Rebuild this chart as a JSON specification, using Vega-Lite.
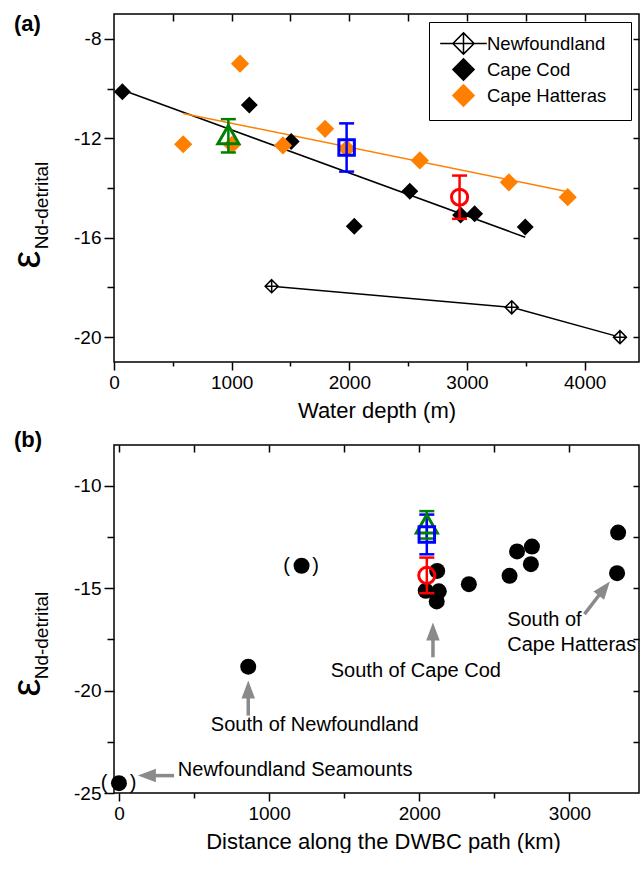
{
  "$schema": "https://vega.github.io/schema/vega-lite/v6.json",
  "padding": {"left": 6, "top": 12, "right": 0, "bottom": 0},
  "background": "white",
  "spacing": 6,
  "config": {
    "font": "Liberation Sans",
    "view": {"stroke": "black", "strokeWidth": 1.5},
    "axis": {"domain": false, "grid": false, "labelFont": "Liberation Sans", "labelFontSize": 19, "labelColor": "black", "tickColor": "black", "tickWidth": 1.5, "titleFont": "Liberation Sans", "titleColor": "black", "titleFontWeight": "normal", "labelFlush": false, "labelOverlap": false},
    "title": {"font": "Liberation Sans", "color": "black"}
  },
  "datasets": {
    "depth": [
      {"series": "Newfoundland", "depth": 1340, "eps": -17.95},
      {"series": "Newfoundland", "depth": 3380, "eps": -18.8},
      {"series": "Newfoundland", "depth": 4300, "eps": -20.0},
      {"series": "Cape Cod", "depth": 71, "eps": -10.13},
      {"series": "Cape Cod", "depth": 1150, "eps": -10.66},
      {"series": "Cape Cod", "depth": 1506, "eps": -12.13},
      {"series": "Cape Cod", "depth": 2042, "eps": -15.54},
      {"series": "Cape Cod", "depth": 2514, "eps": -14.13},
      {"series": "Cape Cod", "depth": 2946, "eps": -15.09},
      {"series": "Cape Cod", "depth": 3065, "eps": -15.04},
      {"series": "Cape Cod", "depth": 3495, "eps": -15.57},
      {"series": "Cape Hatteras", "depth": 588, "eps": -12.24},
      {"series": "Cape Hatteras", "depth": 1003, "eps": -12.26},
      {"series": "Cape Hatteras", "depth": 1071, "eps": -9.0},
      {"series": "Cape Hatteras", "depth": 1436, "eps": -12.29},
      {"series": "Cape Hatteras", "depth": 1794, "eps": -11.62},
      {"series": "Cape Hatteras", "depth": 1978, "eps": -12.42},
      {"series": "Cape Hatteras", "depth": 2599, "eps": -12.89},
      {"series": "Cape Hatteras", "depth": 3356, "eps": -13.77},
      {"series": "Cape Hatteras", "depth": 3856, "eps": -14.37}
    ],
    "fits": [
      {"series": "Cape Cod", "depth": 71, "eps": -10.06},
      {"series": "Cape Cod", "depth": 3495, "eps": -15.98},
      {"series": "Cape Hatteras", "depth": 588, "eps": -11.0},
      {"series": "Cape Hatteras", "depth": 3856, "eps": -14.15}
    ],
    "errs": [
      {"id": "S1", "depth": 972, "dist": 2050, "eps": -11.85, "lo": -12.57, "hi": -11.23},
      {"id": "S2", "depth": 1977, "dist": 2050, "eps": -12.37, "lo": -13.34, "hi": -11.4},
      {"id": "S3", "depth": 2937, "dist": 2050, "eps": -14.37, "lo": -15.24, "hi": -13.5}
    ],
    "dwbc": [
      {"dist": 0, "eps": -24.52, "bracketed": true},
      {"dist": 861, "eps": -18.83, "bracketed": false},
      {"dist": 1216, "eps": -13.9, "bracketed": true},
      {"dist": 2043, "eps": -15.12, "bracketed": false},
      {"dist": 2119, "eps": -14.15, "bracketed": false},
      {"dist": 2130, "eps": -15.15, "bracketed": false},
      {"dist": 2116, "eps": -15.64, "bracketed": false},
      {"dist": 2330, "eps": -14.8, "bracketed": false},
      {"dist": 2601, "eps": -14.39, "bracketed": false},
      {"dist": 2651, "eps": -13.2, "bracketed": false},
      {"dist": 2750, "eps": -12.96, "bracketed": false},
      {"dist": 2743, "eps": -13.82, "bracketed": false},
      {"dist": 3324, "eps": -12.28, "bracketed": false},
      {"dist": 3317, "eps": -14.26, "bracketed": false}
    ],
    "notes": [
      {"note": "South of Cape Cod", "dist": 1977, "eps": -19.06},
      {"note": "South of Newfoundland", "dist": 1304, "eps": -21.66},
      {"note": "Newfoundland Seamounts", "dist": 1173, "eps": -23.9},
      {"note": "South of", "dist": 2833, "eps": -16.55},
      {"note": "Cape Hatteras", "dist": 3015, "eps": -17.76}
    ],
    "arrows": [
      {"dir": "left", "x0": 367, "y0": -24.15, "xb": 233, "yb": -24.15, "xt": 126, "yt": -24.15},
      {"dir": "up", "x0": 861, "y0": -21.22, "xb": 861, "yb": -20.29, "xt": 861, "yt": -19.51},
      {"dir": "up", "x0": 2091, "y0": -18.37, "xb": 2091, "yb": -17.45, "xt": 2091, "yt": -16.67},
      {"dir": "diag", "x0": 3100, "y0": -16.26, "xb": 3203, "yb": -15.28, "xt": 3269, "yt": -14.67}
    ]
  },
  "vconcat": [
    {
      "width": 525,
      "height": 348,
      "title": {"text": "(a)", "orient": "none", "anchor": "start", "frame": "group", "fontSize": 22, "fontWeight": "bold", "baseline": "top", "align": "left", "offset": 0, "dx": -100, "dy": 0},
      "resolve": {"axis": {"x": "independent", "y": "independent"}},
      "layer": [
        {
          "data": {"name": "depth"},
          "transform": [{"filter": "datum.series === 'Newfoundland'"}],
          "mark": {"type": "line", "color": "black", "strokeWidth": 1.5},
          "encoding": {
            "x": {"field": "depth", "type": "quantitative", "scale": {"domain": [0, 4462], "nice": false, "zero": false},
                  "axis": {"orient": "bottom", "values": [0, 1000, 2000, 3000, 4000], "tickSize": 8, "labelPadding": 3, "labelExpr": "'' + datum.value", "title": "Water depth (m)", "titleFontSize": 22, "titlePadding": 8}},
            "y": {"field": "eps", "type": "quantitative", "scale": {"domain": [-21, -7], "nice": false, "zero": false},
                  "axis": {"orient": "left", "values": [-20, -16, -12, -8], "tickSize": 10, "labelPadding": 3, "labelExpr": "datum.value < 0 ? '-' + abs(datum.value) : '' + datum.value", "title": "ε", "titleFontSize": 40, "titleX": -87, "titleY": 245, "titleAlign": "center", "titleBaseline": "middle", "titleAngle": 270}}
          }
        },
        {
          "data": {"name": "fits"},
          "transform": [{"filter": "datum.series === 'Cape Cod'"}],
          "mark": {"type": "line", "color": "black", "strokeWidth": 1.5},
          "encoding": {
            "x": {"field": "depth", "type": "quantitative", "axis": {"orient": "bottom", "values": [500, 1500, 2500, 3500], "tickSize": 4, "labels": false, "title": null}},
            "y": {"field": "eps", "type": "quantitative", "axis": {"orient": "left", "values": [-18, -14, -10], "tickSize": 7, "labels": false, "title": "Nd-detrital", "titleFontSize": 19, "titleX": -73, "titleY": 191, "titleAlign": "center", "titleBaseline": "middle", "titleAngle": 270}}
          }
        },
        {
          "data": {"name": "fits"},
          "transform": [{"filter": "datum.series === 'Cape Hatteras'"}],
          "mark": {"type": "line", "color": "#ff8000", "strokeWidth": 1.5},
          "encoding": {
            "x": {"field": "depth", "type": "quantitative", "axis": {"orient": "top", "values": [500, 1000, 1500, 2000, 2500, 3000, 3500, 4000], "tickSize": -7, "labels": false, "title": null}},
            "y": {"field": "eps", "type": "quantitative", "axis": {"orient": "right", "values": [-20, -18, -16, -14, -12, -10, -8], "tickSize": -6, "labels": false, "title": null}}
          }
        },
        {
          "data": {"name": "depth"},
          "transform": [{"filter": "datum.series === 'Newfoundland'"}],
          "mark": {"type": "point", "shape": "M0,-1L1,0L0,1L-1,0Z M0,-1L0,1 M-1,0L1,0", "size": 170, "strokeWidth": 1.5, "opacity": 1},
          "encoding": {
            "x": {"field": "depth", "type": "quantitative", "axis": null},
            "y": {"field": "eps", "type": "quantitative", "axis": null},
            "fill": {"field": "series", "type": "nominal", "scale": {"domain": ["Newfoundland", "Cape Cod", "Cape Hatteras"], "range": ["white", "black", "#ff8000"]},
                     "legend": {"title": null, "orient": "top-right", "offset": 8, "padding": 10, "strokeColor": "black", "fillColor": "white", "labelFont": "Liberation Sans", "labelFontSize": 18.5, "labelColor": "black", "symbolOffset": 13, "labelOffset": 12, "rowPadding": -9, "symbolSize": 450, "symbolStrokeWidth": 1.5, "labelExpr": "datum.label + '\u2800'"}},
            "stroke": {"field": "series", "type": "nominal", "scale": {"domain": ["Newfoundland", "Cape Cod", "Cape Hatteras"], "range": ["black", "black", "#ff8000"]},
                       "legend": {"title": null, "orient": "top-right", "offset": 8, "padding": 10, "strokeColor": "black", "fillColor": "white", "labelFont": "Liberation Sans", "labelFontSize": 18.5, "labelColor": "black", "symbolOffset": 13, "labelOffset": 12, "rowPadding": -9, "symbolSize": 450, "symbolStrokeWidth": 1.5, "labelExpr": "datum.label + '\u2800'"}}
          }
        },
        {
          "data": {"name": "depth"},
          "transform": [{"filter": "datum.series === 'Cape Cod'"}],
          "mark": {"type": "point", "size": 220, "strokeWidth": 1.5, "opacity": 1},
          "encoding": {
            "x": {"field": "depth", "type": "quantitative", "axis": null},
            "y": {"field": "eps", "type": "quantitative", "axis": null},
            "shape": {"field": "series", "type": "nominal", "scale": {"domain": ["Newfoundland", "Cape Cod", "Cape Hatteras"], "range": ["M-2.2,0L-1,0M1,0L2.2,0M0,-1L1,0L0,1L-1,0ZM0,-1L0,1M-1,0L1,0", "diamond", "diamond"]},
                      "legend": {"title": null, "orient": "top-right", "offset": 8, "padding": 10, "strokeColor": "black", "fillColor": "white", "labelFont": "Liberation Sans", "labelFontSize": 18.5, "labelColor": "black", "symbolOffset": 13, "labelOffset": 12, "rowPadding": -9, "symbolSize": 450, "symbolStrokeWidth": 1.5, "labelExpr": "datum.label + '\u2800'"}},
            "fill": {"field": "series", "type": "nominal"},
            "stroke": {"field": "series", "type": "nominal"}
          }
        },
        {
          "data": {"name": "depth"},
          "transform": [{"filter": "datum.series === 'Cape Hatteras'"}],
          "mark": {"type": "point", "size": 260, "strokeWidth": 1.5, "opacity": 1},
          "encoding": {
            "x": {"field": "depth", "type": "quantitative", "axis": null},
            "y": {"field": "eps", "type": "quantitative", "axis": null},
            "shape": {"field": "series", "type": "nominal"},
            "fill": {"field": "series", "type": "nominal"},
            "stroke": {"field": "series", "type": "nominal"}
          }
        },
        {
          "data": {"name": "errs"},
          "mark": {"type": "rule", "strokeWidth": 2.5},
          "encoding": {
            "x": {"field": "depth", "type": "quantitative", "axis": null},
            "y": {"field": "lo", "type": "quantitative", "axis": null},
            "y2": {"field": "hi"},
            "color": {"field": "id", "type": "nominal", "scale": {"domain": ["S1", "S2", "S3"], "range": ["#008000", "#0000ff", "#ff0000"]}, "legend": null}
          }
        },
        {
          "data": {"name": "errs"},
          "mark": {"type": "tick", "orient": "horizontal", "size": 15, "thickness": 2.5, "opacity": 1},
          "encoding": {
            "x": {"field": "depth", "type": "quantitative", "axis": null},
            "y": {"field": "lo", "type": "quantitative", "axis": null},
            "color": {"field": "id", "type": "nominal", "legend": null}
          }
        },
        {
          "data": {"name": "errs"},
          "mark": {"type": "tick", "orient": "horizontal", "size": 15, "thickness": 2.5, "opacity": 1},
          "encoding": {
            "x": {"field": "depth", "type": "quantitative", "axis": null},
            "y": {"field": "hi", "type": "quantitative", "axis": null},
            "color": {"field": "id", "type": "nominal", "legend": null}
          }
        },
        {
          "data": {"name": "errs"},
          "transform": [{"filter": "datum.id === 'S1'"}],
          "mark": {"type": "point", "shape": "triangle-up", "size": 440, "strokeWidth": 3, "color": "#008000", "filled": false, "opacity": 1},
          "encoding": {
            "x": {"field": "depth", "type": "quantitative", "axis": null},
            "y": {"field": "eps", "type": "quantitative", "axis": null}
          }
        },
        {
          "data": {"name": "errs"},
          "transform": [{"filter": "datum.id === 'S2'"}],
          "mark": {"type": "point", "shape": "square", "size": 240, "strokeWidth": 3, "color": "#0000ff", "filled": false, "opacity": 1},
          "encoding": {
            "x": {"field": "depth", "type": "quantitative", "axis": null},
            "y": {"field": "eps", "type": "quantitative", "axis": null}
          }
        },
        {
          "data": {"name": "errs"},
          "transform": [{"filter": "datum.id === 'S3'"}],
          "mark": {"type": "point", "shape": "circle", "size": 260, "strokeWidth": 3, "color": "#ff0000", "filled": false, "opacity": 1},
          "encoding": {
            "x": {"field": "depth", "type": "quantitative", "axis": null},
            "y": {"field": "eps", "type": "quantitative", "axis": null}
          }
        }
      ]
    },
    {
      "width": 525,
      "height": 348,
      "title": {"text": "(b)", "orient": "none", "anchor": "start", "frame": "group", "fontSize": 22, "fontWeight": "bold", "baseline": "top", "align": "left", "offset": 0, "dx": -100, "dy": -15},
      "resolve": {"axis": {"x": "independent", "y": "independent"}},
      "layer": [
        {
          "data": {"name": "arrows"},
          "mark": {"type": "rule", "color": "#8a8a8a", "strokeWidth": 3.5},
          "encoding": {
            "x": {"field": "x0", "type": "quantitative", "scale": {"domain": [-33, 3463], "nice": false, "zero": false},
                  "axis": {"orient": "bottom", "values": [0, 1000, 2000, 3000], "tickSize": 8, "labelPadding": 3, "labelExpr": "'' + datum.value", "title": "Distance along the DWBC path (km)", "titleFontSize": 22, "titlePadding": 8, "titleX": 269}},
            "y": {"field": "y0", "type": "quantitative", "scale": {"domain": [-25, -8], "nice": false, "zero": false},
                  "axis": {"orient": "left", "values": [-25, -20, -15, -10], "tickSize": 10, "labelPadding": 3, "labelExpr": "datum.value < 0 ? '-' + abs(datum.value) : '' + datum.value", "title": "ε", "titleFontSize": 40, "titleX": -87, "titleY": 242, "titleAlign": "center", "titleBaseline": "middle", "titleAngle": 270}},
            "x2": {"field": "xb"},
            "y2": {"field": "yb"}
          }
        },
        {
          "data": {"name": "arrows"},
          "transform": [{"filter": "datum.dir === 'up'"}],
          "mark": {"type": "point", "shape": "M0,0L0.6,1.6L-0.6,1.6Z", "size": 506, "filled": true, "color": "#8a8a8a", "opacity": 1, "angle": 0},
          "encoding": {
            "x": {"field": "xt", "type": "quantitative", "axis": {"orient": "bottom", "values": [500, 1500, 2500], "tickSize": 5, "labels": false, "title": null}},
            "y": {"field": "yt", "type": "quantitative", "axis": {"orient": "left", "values": [-22.5, -17.5, -12.5], "tickSize": 7, "labels": false, "title": "Nd-detrital", "titleFontSize": 19, "titleX": -73, "titleY": 190, "titleAlign": "center", "titleBaseline": "middle", "titleAngle": 270}}
          }
        },
        {
          "data": {"name": "arrows"},
          "transform": [{"filter": "datum.dir === 'left'"}],
          "mark": {"type": "point", "shape": "M0,0L0.6,1.6L-0.6,1.6Z", "size": 506, "filled": true, "color": "#8a8a8a", "opacity": 1, "angle": 270},
          "encoding": {
            "x": {"field": "xt", "type": "quantitative", "axis": {"orient": "top", "values": [0, 500, 1000, 1500, 2000, 2500, 3000], "tickSize": -7, "labels": false, "title": null}},
            "y": {"field": "yt", "type": "quantitative", "axis": {"orient": "right", "values": [-22.5, -20, -17.5, -15, -12.5, -10], "tickSize": -6, "labels": false, "title": null}}
          }
        },
        {
          "data": {"name": "arrows"},
          "transform": [{"filter": "datum.dir === 'diag'"}],
          "mark": {"type": "point", "shape": "M0,0L0.6,1.6L-0.6,1.6Z", "size": 506, "filled": true, "color": "#8a8a8a", "opacity": 1, "angle": 38},
          "encoding": {
            "x": {"field": "xt", "type": "quantitative", "axis": null},
            "y": {"field": "yt", "type": "quantitative", "axis": null}
          }
        },
        {
          "data": {"name": "dwbc"},
          "mark": {"type": "circle", "size": 256, "color": "black", "opacity": 1},
          "encoding": {
            "x": {"field": "dist", "type": "quantitative", "axis": null},
            "y": {"field": "eps", "type": "quantitative", "axis": null}
          }
        },
        {
          "data": {"name": "dwbc"},
          "transform": [{"filter": "datum.bracketed"}],
          "mark": {"type": "text", "text": "(", "fontSize": 20, "dx": -15, "baseline": "middle", "align": "center", "color": "black"},
          "encoding": {
            "x": {"field": "dist", "type": "quantitative", "axis": null},
            "y": {"field": "eps", "type": "quantitative", "axis": null}
          }
        },
        {
          "data": {"name": "dwbc"},
          "transform": [{"filter": "datum.bracketed"}],
          "mark": {"type": "text", "text": ")", "fontSize": 20, "dx": 14, "baseline": "middle", "align": "center", "color": "black"},
          "encoding": {
            "x": {"field": "dist", "type": "quantitative", "axis": null},
            "y": {"field": "eps", "type": "quantitative", "axis": null}
          }
        },
        {
          "data": {"name": "notes"},
          "mark": {"type": "text", "fontSize": 20, "baseline": "middle", "align": "center", "color": "black"},
          "encoding": {
            "x": {"field": "dist", "type": "quantitative", "axis": null},
            "y": {"field": "eps", "type": "quantitative", "axis": null},
            "text": {"field": "note"}
          }
        },
        {
          "data": {"name": "errs"},
          "mark": {"type": "rule", "strokeWidth": 2.5},
          "encoding": {
            "x": {"field": "dist", "type": "quantitative", "axis": null},
            "y": {"field": "lo", "type": "quantitative", "axis": null},
            "y2": {"field": "hi"},
            "color": {"field": "id", "type": "nominal", "scale": {"domain": ["S1", "S2", "S3"], "range": ["#008000", "#0000ff", "#ff0000"]}, "legend": null}
          }
        },
        {
          "data": {"name": "errs"},
          "mark": {"type": "tick", "orient": "horizontal", "size": 15, "thickness": 2.5, "opacity": 1},
          "encoding": {
            "x": {"field": "dist", "type": "quantitative", "axis": null},
            "y": {"field": "lo", "type": "quantitative", "axis": null},
            "color": {"field": "id", "type": "nominal", "legend": null}
          }
        },
        {
          "data": {"name": "errs"},
          "mark": {"type": "tick", "orient": "horizontal", "size": 15, "thickness": 2.5, "opacity": 1},
          "encoding": {
            "x": {"field": "dist", "type": "quantitative", "axis": null},
            "y": {"field": "hi", "type": "quantitative", "axis": null},
            "color": {"field": "id", "type": "nominal", "legend": null}
          }
        },
        {
          "data": {"name": "errs"},
          "transform": [{"filter": "datum.id === 'S1'"}],
          "mark": {"type": "point", "shape": "triangle-up", "size": 440, "strokeWidth": 3, "color": "#008000", "filled": false, "opacity": 1},
          "encoding": {
            "x": {"field": "dist", "type": "quantitative", "axis": null},
            "y": {"field": "eps", "type": "quantitative", "axis": null}
          }
        },
        {
          "data": {"name": "errs"},
          "transform": [{"filter": "datum.id === 'S2'"}],
          "mark": {"type": "point", "shape": "square", "size": 240, "strokeWidth": 3, "color": "#0000ff", "filled": false, "opacity": 1},
          "encoding": {
            "x": {"field": "dist", "type": "quantitative", "axis": null},
            "y": {"field": "eps", "type": "quantitative", "axis": null}
          }
        },
        {
          "data": {"name": "errs"},
          "transform": [{"filter": "datum.id === 'S3'"}],
          "mark": {"type": "point", "shape": "circle", "size": 260, "strokeWidth": 3, "color": "#ff0000", "filled": false, "opacity": 1},
          "encoding": {
            "x": {"field": "dist", "type": "quantitative", "axis": null},
            "y": {"field": "eps", "type": "quantitative", "axis": null}
          }
        }
      ]
    }
  ]
}
